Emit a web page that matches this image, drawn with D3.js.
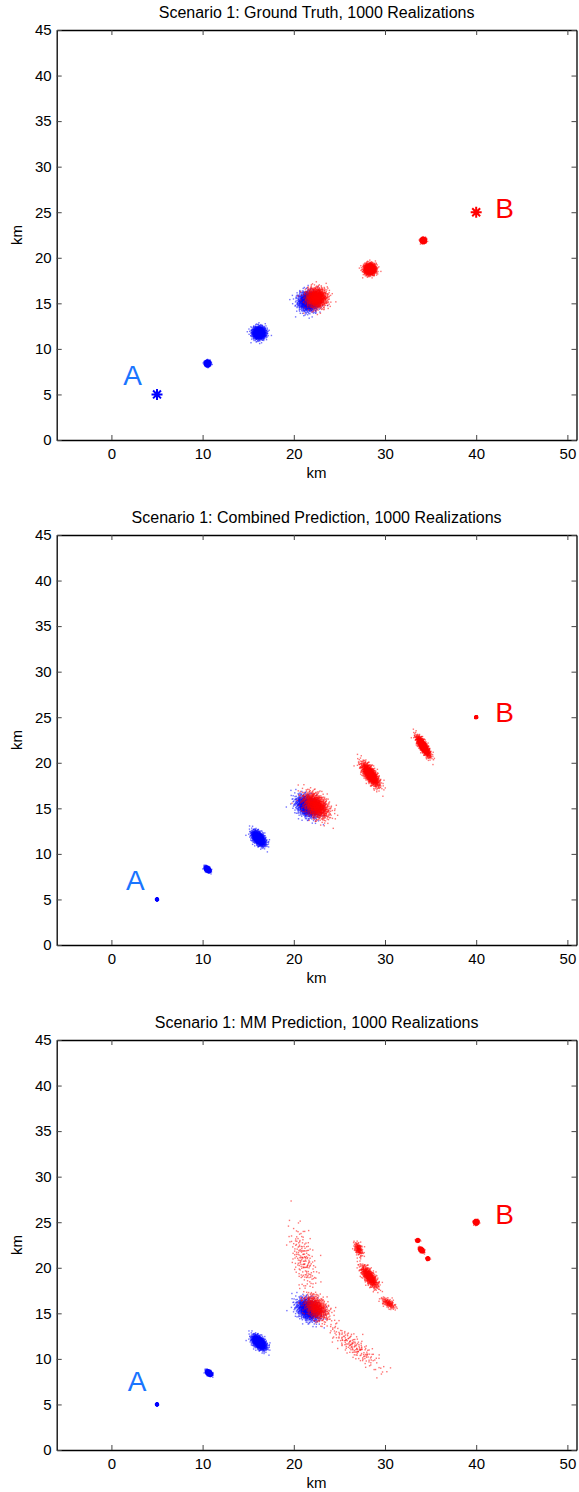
<!DOCTYPE html>
<html>
<head>
<meta charset="utf-8">
<script src="https://cdn.jsdelivr.net/npm/d3@7"></script>
<style>
  html, body { margin: 0; padding: 0; background: #fff; }
  svg { display: block; font-family: "Liberation Sans", Arial, Helvetica, sans-serif; }
</style>
</head>
<body>
<svg id="chart" width="579" height="1492"></svg>
<script>
// Axis settings shared by the three panels
const xDomain = [-6, 51];
const yDomain = [0, 45];
const xTicks = [0, 10, 20, 30, 40, 50];
const yTicks = [0, 5, 10, 15, 20, 25, 30, 35, 40, 45];
const axisLabel = "km";

const panelTitles = [
  "Scenario 1: Ground Truth, 1000 Realizations",
  "Scenario 1: Combined Prediction, 1000 Realizations",
  "Scenario 1: MM Prediction, 1000 Realizations"
];

// Realization clouds: [meanX, meanY, sdMajor, sdMinor, majorAngleDeg, realizations, side]
// side "A" = blue track starting at A, side "B" = red track starting at B
const groundTruth = [
  [10.55, 8.4, 0.14, 0.14, 0, 1000, "A"],
  [16.2, 11.75, 0.37, 0.35, 0, 1000, "A"],
  [21.6, 15.2, 0.58, 0.55, 0, 1000, "A"],
  [22.5, 15.6, 0.58, 0.55, 0, 1000, "B"],
  [28.35, 18.75, 0.33, 0.31, 0, 1000, "B"],
  [34.2, 21.9, 0.13, 0.13, 0, 1000, "B"]
];
const combinedPrediction = [
  [5, 5, 0.05, 0.05, 0, 1000, "A"],
  [10.55, 8.3, 0.17, 0.11, -45, 1000, "A"],
  [16.15, 11.7, 0.48, 0.28, -50, 1000, "A"],
  [21.5, 15.2, 0.72, 0.5, -40, 1000, "A"],
  [22.45, 15.3, 0.85, 0.55, -45, 1000, "B"],
  [28.4, 18.7, 0.75, 0.3, -55, 1000, "B"],
  [34.2, 21.8, 0.62, 0.2, -58, 1000, "B"],
  [40, 25, 0.05, 0.05, 0, 1000, "B"]
];
const mmPrediction = [
  [5, 5, 0.05, 0.05, 0, 1000, "A"],
  [10.7, 8.45, 0.17, 0.11, -40, 1000, "A"],
  [16.2, 11.8, 0.48, 0.28, -45, 1000, "A"],
  [21.6, 15.4, 0.72, 0.52, -40, 1000, "A"],
  [22.5, 15.6, 0.8, 0.52, -45, 600, "B"],
  [21.1, 20.8, 1.9, 0.6, -76, 200, "B"],
  [26.6, 11.4, 1.9, 0.5, -40, 200, "B"],
  [27.1, 22.05, 0.4, 0.22, -70, 140, "B"],
  [28.3, 19.0, 0.72, 0.28, -55, 600, "B"],
  [30.4, 16.1, 0.45, 0.22, -35, 140, "B"],
  [33.6, 23.0, 0.09, 0.08, 0, 250, "B"],
  [34.0, 21.95, 0.15, 0.1, -45, 500, "B"],
  [34.7, 21.0, 0.08, 0.08, 0, 250, "B"],
  [40, 25, 0.11, 0.11, 0, 1000, "B"]
];

// Start points drawn with the asterisk marker: [x, y, side]
const groundTruthStars = [[5, 5, "A"], [40, 25, "B"]];
const combinedStars = [];
const mmStars = [];

// Start labels per panel: [x, y] of the text baseline start
const labelA = [[1.3, 6.0], [1.6, 6.0], [1.8, 6.5]];
const labelB = [[42.1, 24.4], [42.1, 24.5], [42.1, 24.8]];

const cloudSets = [groundTruth, combinedPrediction, mmPrediction];
const starSets = [groundTruthStars, combinedStars, mmStars];

const sideColor = { A: "#0000ff", B: "#ff0000" };
const labelColor = { A: "#1a75ff", B: "#ff0000" };

// Frame geometry
const plotLeft = 56.7, plotRight = 576.5, plotHeight = 410;
const panelTops = [30, 535, 1040];

const svg = d3.select("#chart");

// Low-discrepancy Halton value, used to lay out each cloud's realizations
function halton(i, base) {
  let f = 1, r = 0;
  while (i > 0) { f /= base; r += f * (i % base); i = Math.floor(i / base); }
  return r;
}

// Offsets (in km) of a cloud's realizations from its mean, following its covariance
function cloudOffsets(c, seed) {
  const [, , sa, sb, ang, n] = c;
  const a = ang * Math.PI / 180, ca = Math.cos(a), sn = Math.sin(a);
  const pts = [];
  for (let k = 1; k <= n; k++) {
    const i = k + seed;
    const u1 = Math.max(halton(i, 2), 1e-6), u2 = halton(i, 3);
    const r = Math.sqrt(-2 * Math.log(u1));
    const z1 = r * Math.cos(2 * Math.PI * u2) * sa;
    const z2 = r * Math.sin(2 * Math.PI * u2) * sb;
    pts.push([c[0] + z1 * ca - z2 * sn, c[1] + z1 * sn + z2 * ca]);
  }
  return pts;
}

function starPath(s) {
  const h = s / 2, d = h * 0.72;
  return `M${-h},0L${h},0M0,${-h}L0,${h}M${-d},${-d}L${d},${d}M${-d},${d}L${d},${-d}`;
}

panelTops.forEach((top, p) => {
  const x = d3.scaleLinear().domain(xDomain).range([plotLeft, plotRight]);
  const y = d3.scaleLinear().domain(yDomain).range([top + plotHeight, top]);
  const g = svg.append("g");

  // Realization dots, blue track first so the red track sits on top
  const clouds = cloudSets[p].slice().sort((m, n) => (m[6] === n[6] ? 0 : m[6] === "A" ? -1 : 1));
  clouds.forEach((c, ci) => {
    const pts = cloudOffsets(c, 37 * ci + 11 * p);
    g.append("g")
      .attr("fill", sideColor[c[6]])
      .attr("fill-opacity", 0.55)
      .selectAll("rect")
      .data(pts)
      .join("rect")
      .attr("x", d => x(d[0]) - 0.7)
      .attr("y", d => y(d[1]) - 0.7)
      .attr("width", 1.4)
      .attr("height", 1.4);
  });

  // Asterisk markers at the start points
  g.append("g").selectAll("path")
    .data(starSets[p])
    .join("path")
    .attr("transform", d => `translate(${x(d[0])},${y(d[1])})`)
    .attr("d", starPath(11))
    .attr("stroke", d => sideColor[d[2]])
    .attr("stroke-width", 2)
    .attr("fill", "none");

  // A / B labels
  g.append("text")
    .attr("x", x(labelA[p][0])).attr("y", y(labelA[p][1]))
    .attr("font-size", 28).attr("fill", labelColor.A).text("A");
  g.append("text")
    .attr("x", x(labelB[p][0])).attr("y", y(labelB[p][1]))
    .attr("font-size", 28).attr("fill", labelColor.B).text("B");

  // Axes with inward ticks on all four sides
  const bottom = g.append("g").attr("transform", `translate(0,${top + plotHeight})`)
    .call(d3.axisBottom(x).tickValues(xTicks).tickSize(-5).tickSizeOuter(0).tickPadding(8));
  const topAx = g.append("g").attr("transform", `translate(0,${top})`)
    .call(d3.axisTop(x).tickValues(xTicks).tickSize(-5).tickSizeOuter(0).tickFormat(""));
  const left = g.append("g").attr("transform", `translate(${plotLeft},0)`)
    .call(d3.axisLeft(y).tickValues(yTicks).tickSize(-5).tickSizeOuter(0).tickPadding(5));
  const right = g.append("g").attr("transform", `translate(${plotRight},0)`)
    .call(d3.axisRight(y).tickValues(yTicks).tickSize(-5).tickSizeOuter(0).tickFormat(""));
  [bottom, topAx, left, right].forEach(a => {
    a.selectAll(".domain").attr("stroke", "#000").attr("stroke-width", 1.3);
    a.selectAll(".tick line").attr("stroke", "#444").attr("stroke-width", 1);
    a.selectAll("text").attr("font-size", 15).attr("fill", "#000")
      .attr("font-family", "'Liberation Sans', Arial, sans-serif");
  });

  // Title and axis labels
  g.append("text")
    .attr("x", (plotLeft + plotRight) / 2).attr("y", top - 12)
    .attr("text-anchor", "middle").attr("font-size", 16).text(panelTitles[p]);
  g.append("text")
    .attr("x", (plotLeft + plotRight) / 2).attr("y", top + plotHeight + 38)
    .attr("text-anchor", "middle").attr("font-size", 15).text(axisLabel);
  g.append("text")
    .attr("transform", `translate(22,${top + plotHeight / 2}) rotate(-90)`)
    .attr("text-anchor", "middle").attr("font-size", 15).text(axisLabel);
});
</script>
</body>
</html>
